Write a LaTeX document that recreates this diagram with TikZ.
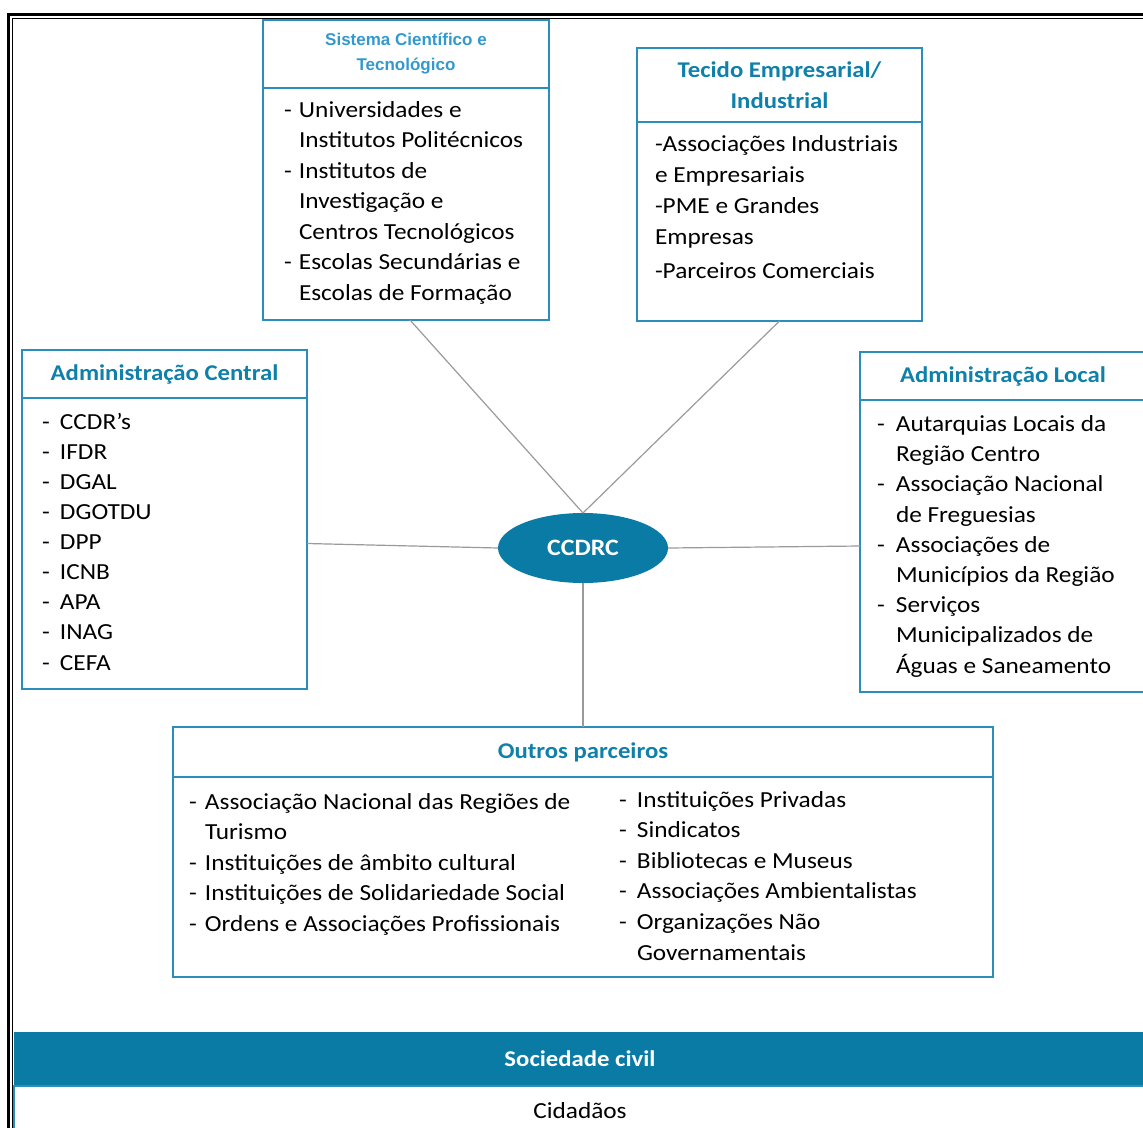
\documentclass[tikz,border=0pt]{standalone}
\usepackage{fontspec}
\setmainfont{Carlito}[FakeStretch=1.1]
\newfontfamily\arialfont{Liberation Sans}
\usetikzlibrary{shapes.geometric}
\definecolor{tealline}{HTML}{2B8DBA}
\definecolor{tealtext}{HTML}{0F80AA}
\definecolor{skytext}{HTML}{3399CC}
\definecolor{deepteal}{HTML}{0A7BA5}
\definecolor{linkgray}{HTML}{9A9A9A}
\newcommand{\dashit}[1][16pt]{\makebox[#1][l]{-}}
\newcommand{\padit}[1][16pt]{\hspace*{#1}}

\begin{document}
\begin{tikzpicture}[x=1pt, y=-1pt, outer sep=0pt,
  boxhead/.style={rectangle, draw=tealline, line width=1.6pt, inner sep=0pt, text=tealtext, align=center, font=\bfseries\fontsize{22.5}{31}\selectfont},
  boxbody/.style={rectangle, draw=tealline, line width=1.6pt, inner sep=0pt},
  itemtext/.style={anchor=base west, inner sep=0pt, align=left, font=\fontsize{23}{30.5}\selectfont},
  link/.style={draw=linkgray, line width=1.2pt}]

\useasboundingbox (0,0) rectangle (1143,1127);

% double frame
\draw[line width=3pt] (8.5,1140) -- (8.5,14.5) -- (1160,14.5);
\draw[line width=1.5pt] (12.5,1140) -- (12.5,18.5) -- (1160,18.5);

% centre
\node[ellipse, fill=deepteal, minimum width=170, minimum height=70, inner sep=0pt, text=white, font=\bfseries\fontsize{23.5}{23.5}\selectfont] (ccdrc) at (583,548) {CCDRC};

% Sistema Cientifico e Tecnologico (base = last line)
\node[boxhead, minimum width=286, minimum height=68, text=skytext, font=\arialfont\bfseries\fontsize{17}{25}\selectfont] (sisth) at (406,54) {Sistema Científico e\\Tecnológico};
\node[boxbody, minimum width=286, minimum height=232, anchor=north] (sistb) at (sisth.south) {};
\node[itemtext] (sistt) at (284,300) {\dashit[15pt]Universidades e\\\padit[15pt]Institutos Politécnicos\\\dashit[15pt]Institutos de\\\padit[15pt]Investigação e\\\padit[15pt]Centros Tecnológicos\\\dashit[15pt]Escolas Secundárias e\\\padit[15pt]Escolas de Formação};

% Tecido Empresarial
\node[boxhead, minimum width=285, minimum height=74] (tech) at (779.5,85) {Tecido Empresarial/\\Industrial};
\node[boxbody, minimum width=285, minimum height=199, anchor=north] (tecb) at (tech.south) {};
\node[itemtext, font=\fontsize{23}{31}\selectfont] (tect) at (655,278) {-Associações Industriais\\e Empresariais\\-PME e Grandes\\Empresas\\[3pt]-Parceiros Comerciais};

% Administracao Central
\node[boxhead, minimum width=285, minimum height=48] (admch) at (164.5,374) {Administração Central};
\node[boxbody, minimum width=285, minimum height=291, anchor=north] (admcb) at (admch.south) {};
\node[itemtext, font=\fontsize{23}{30.1}\selectfont] (admct) at (42,670) {\dashit[18pt]CCDR’s\\\dashit[18pt]IFDR\\\dashit[18pt]DGAL\\\dashit[18pt]DGOTDU\\\dashit[18pt]DPP\\\dashit[18pt]ICNB\\\dashit[18pt]APA\\\dashit[18pt]INAG\\\dashit[18pt]CEFA};

% Administracao Local
\node[boxhead, minimum width=286, minimum height=48] (admlh) at (1003,376) {Administração Local};
\node[boxbody, minimum width=286, minimum height=292, anchor=north] (admlb) at (admlh.south) {};
\node[itemtext, font=\fontsize{23}{30.2}\selectfont] (admlt) at (877,673) {\dashit[19pt]Autarquias Locais da\\\padit[19pt]Região Centro\\\dashit[19pt]Associação Nacional\\\padit[19pt]de Freguesias\\\dashit[19pt]Associações de\\\padit[19pt]Municípios da Região\\\dashit[19pt]Serviços\\\padit[19pt]Municipalizados de\\\padit[19pt]Águas e Saneamento};

% Outros parceiros
\node[boxhead, minimum width=820, minimum height=50] (outh) at (583,752) {Outros parceiros};
\node[boxbody, minimum width=820, minimum height=200, anchor=north] (outb) at (outh.south) {};
\node[itemtext] (outl) at (189,931) {\dashit[16pt]Associação Nacional das Regiões de\\\padit[16pt]Turismo\\\dashit[16pt]Instituições de âmbito cultural\\\dashit[16pt]Instituições de Solidariedade Social\\\dashit[16pt]Ordens e Associações Profissionais};
\node[itemtext, font=\fontsize{23}{30.6}\selectfont] (outr) at (619,960) {\dashit[18pt]Instituições Privadas\\\dashit[18pt]Sindicatos\\\dashit[18pt]Bibliotecas e Museus\\\dashit[18pt]Associações Ambientalistas\\\dashit[18pt]Organizações Não\\\padit[18pt]Governamentais};

% Sociedade civil
\node[rectangle, fill=deepteal, minimum width=1132, minimum height=54, anchor=north west, text=white, font=\bfseries\fontsize{22.5}{22.5}\selectfont] (socc) at (14,1032) {Sociedade civil};
\node[boxbody, minimum width=1132, minimum height=50, anchor=north, font=\fontsize{23}{23}\selectfont] (cidd) at (socc.south) {Cidadãos};

% links
\draw[link] ([xshift=4]sistb.south) -- (ccdrc.north);
\draw[link] (tecb.south) -- (ccdrc.north);
\draw[link] (admcb.east) -- (ccdrc.west);
\draw[link] (ccdrc.east) -- (admlb.west);
\draw[link] (ccdrc.south) -- (outh.north);

\end{tikzpicture}
\end{document}
